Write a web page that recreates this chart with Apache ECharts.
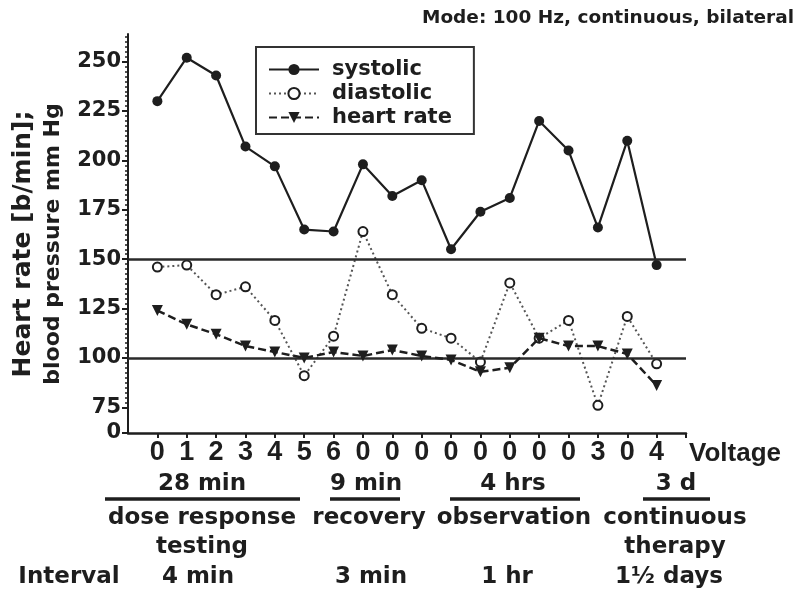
<!DOCTYPE html>
<html><head><meta charset="utf-8">
<script src="https://cdn.jsdelivr.net/npm/echarts@6/dist/echarts.min.js"></script>
<style>html,body{margin:0;padding:0;background:#fff}#c{width:800px;height:602px}</style>
</head><body><div id="c"></div>
<script>
const voltage = ['0','1','2','3','4','5','6','0','0','0','0','0','0','0','0','3','0','4'];
const systolic = [230,252,243,207,197,165,164,198,182,190,155,174,181,220,205,166,210,147];
const diastolic = [146,147,132,136,119,91,111,164,132,115,110,98,138,110,119,76,121,97];
const heartRate = [124,117,112,106,103,100,103,101,104,101,99,93,95,110,106,106,102,86];
const yTickValues = [0,75,100,125,150,175,200,225,250];
const refLines = [150,100];
const phaseDurations = ['28 min','9 min','4 hrs','3 d'];
const phaseNames = ['dose response\ntesting','recovery','observation','continuous\ntherapy'];
const intervals = ['4 min','3 min','1 hr','1½ days'];

const minorTicks = [];
for (let v = 75; v <= 262.5; v += 2.5) minorTicks.push(v);
const xIdx = voltage.map((_, i) => i);
const toPts = arr => arr.map((v, i) => [i, v]);
const yBreaks = [{start: 3, end: 72, gap: 7}];
const ink = '#1e1e1e';
const bottomFont = 'bold 23px "DejaVu Sans"';

const chart = echarts.init(document.getElementById('c'), null, {renderer: 'canvas'});
const phaseX = [202, 369, 514, 675];
const graphics = [
  {type:'text', style:{text:'Mode: 100 Hz, continuous, bilateral', x:794, y:18, align:'right', verticalAlign:'middle', font:'bold 18.5px "DejaVu Sans"', fill:ink}},
  {type:'text', x:23, y:244, rotation:Math.PI/2, style:{text:'Heart rate [b/min];', x:0, y:0, align:'center', verticalAlign:'middle', font:'bold 25px "DejaVu Sans"', fill:ink}},
  {type:'text', x:53, y:244, rotation:Math.PI/2, style:{text:'blood pressure mm Hg', x:0, y:0, align:'center', verticalAlign:'middle', font:'bold 22px "DejaVu Sans"', fill:ink}},
  {type:'text', style:{text:'Voltage', x:689, y:454, align:'left', verticalAlign:'middle', font:'bold 26px "Liberation Sans"', fill:ink}},
  {type:'text', style:{text:'Interval', x:69, y:577, align:'center', verticalAlign:'middle', font:bottomFont, fill:ink}}
];
const underlines = [[105,300],[330,400],[450,580],[643,710]];
const durX = [202, 366, 513, 676];
const intX = [198, 371, 507, 669];
phaseDurations.forEach((t, i) => {
  graphics.push({type:'text', style:{text:t, x:durX[i], y:484, align:'center', verticalAlign:'middle', font:bottomFont, fill:ink}});
  graphics.push({type:'line', shape:{x1:underlines[i][0], y1:499, x2:underlines[i][1], y2:499}, style:{stroke:ink, lineWidth:3.5}});
  graphics.push({type:'text', style:{text:phaseNames[i], x:phaseX[i], y:504, align:'center', verticalAlign:'top', font:bottomFont, lineHeight:29, fill:ink}});
  graphics.push({type:'text', style:{text:intervals[i], x:intX[i], y:577, align:'center', verticalAlign:'middle', font:bottomFont, fill:ink}});
});

const yCommon = {
  type:'value', min:0, max:264, position:'left',
  breaks: yBreaks, breakArea:{show:false},
  splitLine:{show:false}
};

chart.setOption({
  animation:false,
  backgroundColor:'#fff',
  grid:{left:128, right:114, top:34, bottom:169, outerBoundsMode:'none'},
  legend:{
    orient:'vertical', left:256, top:47, itemWidth:50, itemHeight:14, itemGap:3,
    padding:[12,22,6,12], borderColor:'#333', borderWidth:2, backgroundColor:'#fff',
    textStyle:{fontFamily:'DejaVu Sans', fontWeight:'bold', fontSize:21, color:ink, padding:[0,0,0,8]},
    data:['systolic','diastolic','heart rate']
  },
  xAxis:{
    type:'value', min:-1, max:18, interval:1,
    axisLine:{onZero:false, lineStyle:{color:ink, width:2.5}},
    axisTick:{show:true, customValues: xIdx.concat([18]), length:5, lineStyle:{color:ink, width:2}},
    axisLabel:{customValues: xIdx, formatter: v => voltage[v] ?? '', fontFamily:'Liberation Sans', fontWeight:'bold', fontSize:27, color:ink, margin:6},
    splitLine:{show:false}
  },
  yAxis:[
    Object.assign({}, yCommon, {
      axisLine:{show:false, onZero:false},
      axisTick:{show:true, customValues: yTickValues, length:6, lineStyle:{color:ink, width:2}},
      axisLabel:{customValues: yTickValues, fontFamily:'DejaVu Sans', fontWeight:'bold', fontSize:21, color:ink, margin:7}
    }),
    Object.assign({}, yCommon, {
      axisLine:{show:false, onZero:false},
      axisTick:{show:true, customValues: minorTicks, length:3, lineStyle:{color:ink, width:1.5}},
      axisLabel:{show:false}
    }),
    {
      type:'value', min:0, max:264, position:'left', splitLine:{show:false},
      axisLine:{show:true, onZero:false, lineStyle:{color:ink, width:2}},
      axisTick:{show:false}, axisLabel:{show:false}
    }
  ],
  series:[
    {name:'systolic', type:'line', data:toPts(systolic), symbol:'circle', symbolSize:10,
     lineStyle:{color:ink, width:2.2}, itemStyle:{color:ink}, z:4,
     markLine:{silent:true, symbol:'none', label:{show:false}, animation:false,
       lineStyle:{color:'#2a2a2a', type:'solid', width:2.5},
       data: refLines.map(v => ({yAxis:v}))}},
    {name:'diastolic', type:'line', data:toPts(diastolic), symbol:'emptyCircle', symbolSize:9,
     lineStyle:{color:'#555', width:2, type:[2,3]}, itemStyle:{color:ink, borderWidth:2}, z:3},
    {name:'heart rate', type:'line', data:toPts(heartRate), symbol:'triangle', symbolRotate:180, symbolSize:11,
     lineStyle:{color:ink, width:2.5, type:[8,4]}, itemStyle:{color:ink}, z:5}
  ],
  graphic: graphics
});
</script></body></html>
